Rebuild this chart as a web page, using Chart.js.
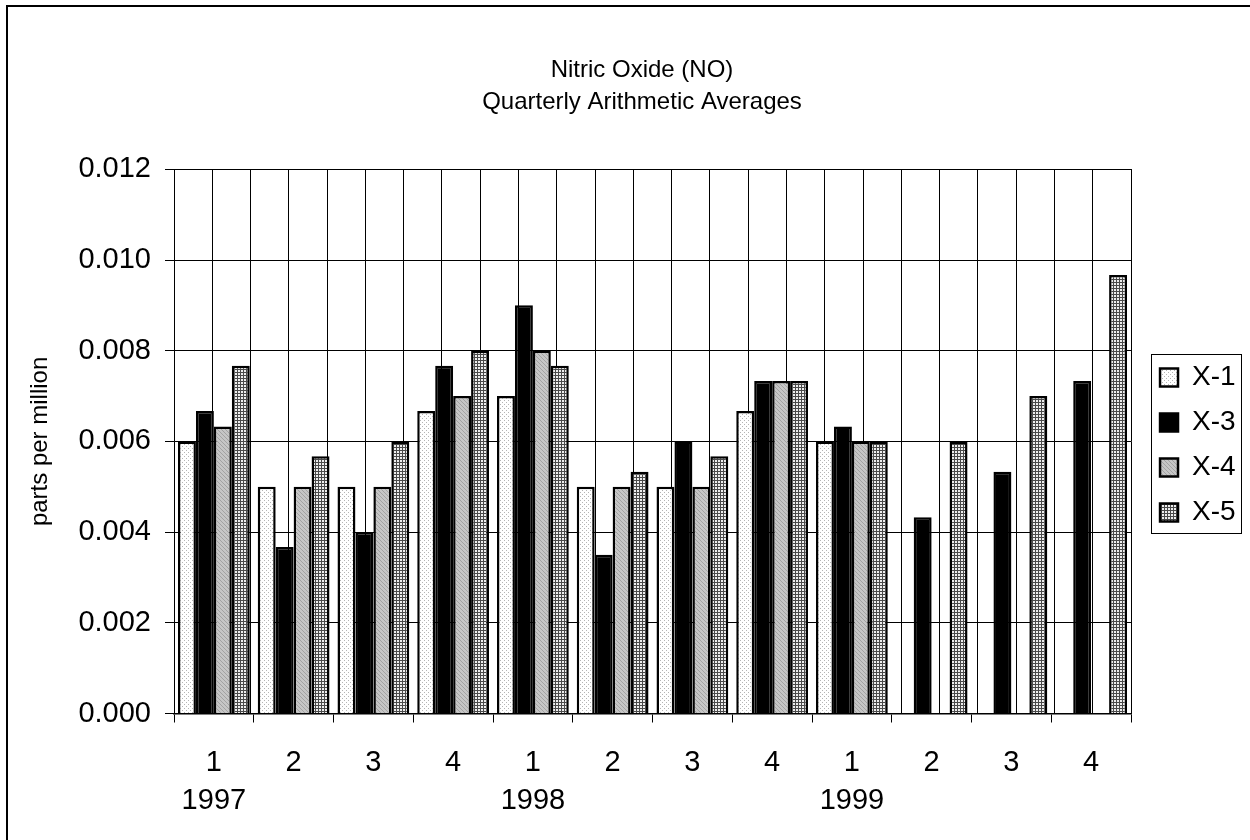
<!DOCTYPE html>
<html>
<head>
<meta charset="utf-8">
<title>Nitric Oxide (NO) – Quarterly Arithmetic Averages</title>
<script src="https://cdn.jsdelivr.net/npm/chart.js@4"></script>
<style>
  html, body { margin: 0; padding: 0; background: #fff; }
  #wrap { position: relative; width: 1250px; height: 840px; }
  canvas { display: block; }
</style>
</head>
<body>
<div id="wrap"><canvas id="chart" width="1250" height="840"></canvas></div>
<script>
// Chart text
const titleLines = ['Nitric Oxide (NO)', 'Quarterly Arithmetic Averages'];
const yAxisTitle = 'parts per million';

// Category axis: quarter number, with the year under each first quarter
const quarters = ['1', '2', '3', '4', '1', '2', '3', '4', '1', '2', '3', '4'];
const years = ['1997', '', '', '', '1998', '', '', '', '1999', '', '', ''];

// Quarterly arithmetic averages (ppm) per monitoring site
const seriesNames = ['X-1', 'X-3', 'X-4', 'X-5'];
const siteX1 = [0.006, 0.005, 0.005, 0.00667, 0.007, 0.005, 0.005, 0.00667, 0.006, null, null, null];
const siteX3 = [0.00667, 0.00367, 0.004, 0.00767, 0.009, 0.0035, 0.006, 0.00733, 0.00633, 0.00433, 0.00533, 0.00733];
const siteX4 = [0.00633, 0.005, 0.005, 0.007, 0.008, 0.005, 0.005, 0.00733, 0.006, null, null, null];
const siteX5 = [0.00767, 0.00567, 0.006, 0.008, 0.00767, 0.00533, 0.00567, 0.00733, 0.006, 0.006, 0.007, 0.00967];

// Value axis
const yMin = 0, yMax = 0.012, yStep = 0.002;

const FONT = '"Liberation Sans", Arial, Helvetica, sans-serif';
Chart.defaults.font.family = FONT;
Chart.defaults.color = '#000';

// Small tiled fills in the style of monochrome print patterns
function tile(w, h, bg, pixels, ink) {
  const c = document.createElement('canvas');
  c.width = w; c.height = h;
  const g = c.getContext('2d');
  g.fillStyle = bg; g.fillRect(0, 0, w, h);
  g.fillStyle = ink;
  pixels.forEach(([px, py, pw, ph]) => g.fillRect(px, py, pw || 1, ph || 1));
  return g.createPattern(c, 'repeat');
}
const pc = document.getElementById('chart').getContext('2d');
const fillDots = tile(4, 4, '#ffffff', [[0, 0], [2, 2]], '#b4b4b4');
const fillSolid = '#000000';
const fillHatch = tile(4, 4, '#c6c6c6', [[0, 0], [1, 1], [2, 2], [3, 3]], '#a2a2a2');
const fillGrid = tile(3, 3, '#4a4a4a', [[1, 1, 2, 2]], '#eeeeee');

const labels = quarters.map((q, i) => years[i] ? [q, years[i]] : q);

function barSet(name, values, fill) {
  return {
    label: name,
    data: values,
    backgroundColor: fill,
    borderColor: '#000',
    borderWidth: 2.5,
    categoryPercentage: 0.9,
    barPercentage: 1.0
  };
}

// Outer frame (top and left edges)
const framePlugin = {
  id: 'frame',
  beforeDraw(chart) {
    const c = chart.ctx;
    c.save();
    c.fillStyle = '#000';
    c.fillRect(6, 5, chart.width - 6, 2);
    c.fillRect(6, 5, 2, chart.height - 5);
    c.restore();
  }
};

// Two-line heading
const headingPlugin = {
  id: 'heading',
  afterDraw(chart) {
    const c = chart.ctx;
    c.save();
    c.fillStyle = '#000';
    c.font = '24px ' + FONT;
    c.textAlign = 'center';
    c.textBaseline = 'middle';
    titleLines.forEach((t, i) => c.fillText(t, 642, 70 + i * 32));
    c.restore();
  }
};

// Box around the legend entries
const legendFramePlugin = {
  id: 'legendFrame',
  afterDraw(chart) {
    const lg = chart.legend;
    if (!lg || !lg.legendHitBoxes || !lg.legendHitBoxes.length) return;
    const hb = lg.legendHitBoxes;
    const first = hb[0], last = hb[hb.length - 1];
    const left = Math.round(first.left - 9) + 0.5;
    const top = Math.round(first.top - 9) + 0.5;
    const right = Math.round(first.left + 81) + 0.5;
    const bottom = Math.round(last.top + last.height + 7) + 0.5;
    const c = chart.ctx;
    c.save();
    c.strokeStyle = '#000';
    c.lineWidth = 1;
    c.strokeRect(left, top, right - left, bottom - top);
    c.restore();
  }
};

new Chart(pc, {
  type: 'bar',
  data: {
    labels: labels,
    datasets: [
      barSet(seriesNames[0], siteX1, fillDots),
      barSet(seriesNames[1], siteX3, fillSolid),
      barSet(seriesNames[2], siteX4, fillHatch),
      barSet(seriesNames[3], siteX5, fillGrid)
    ]
  },
  options: {
    responsive: false,
    animation: false,
    events: [],
    layout: { padding: { top: 169.3, right: 4.4, bottom: 0, left: 0 } },
    scales: {
      x: {
        type: 'category',
        position: 'bottom',
        offset: true,
        grid: { display: true, offset: true, drawOnChartArea: false, drawTicks: true, tickLength: 9, color: '#000', lineWidth: 1 },
        border: { display: true, color: '#000', width: 1.5 },
        ticks: { padding: 22, autoSkip: false, maxRotation: 0, font: { size: 29, lineHeight: 1.3 }, color: '#000' },
        afterFit(s) { s.height = 840 - 713.5; }
      },
      // vertical rules at every half category
      xRules: {
        type: 'linear',
        axis: 'x',
        position: 'top',
        min: 0,
        max: 12,
        ticks: { display: false, stepSize: 0.5 },
        grid: { display: true, drawTicks: false, color: '#000', lineWidth: 1 },
        border: { display: false }
      },
      y: {
        type: 'linear',
        position: 'left',
        min: yMin,
        max: yMax,
        grid: { display: true, drawTicks: true, tickLength: 9, color: '#000', lineWidth: 1 },
        border: { display: true, color: '#000', width: 1 },
        ticks: {
          stepSize: yStep,
          padding: 14,
          font: { size: 29 },
          color: '#000',
          callback: v => Number(v).toFixed(3)
        },
        title: {
          display: true,
          text: yAxisTitle,
          font: { size: 24, lineHeight: 1.2 },
          color: '#000',
          padding: { top: 26, bottom: 0 }
        },
        afterFit(s) { s.width = 174; }
      },
      // gap between plot and legend
      yGap: {
        type: 'linear',
        axis: 'y',
        position: 'right',
        grid: { display: false },
        ticks: { display: false },
        border: { display: false },
        afterFit(s) { s.width = 12; }
      }
    },
    plugins: {
      title: { display: false },
      tooltip: { enabled: false },
      legend: {
        display: true,
        position: 'right',
        align: 'center',
        fullSize: false,
        title: { display: true, text: '', font: { size: 1, lineHeight: 1 }, padding: { top: 6, bottom: 0 } },
        labels: {
          boxWidth: 18,
          boxHeight: 18,
          padding: 17,
          color: '#000',
          font: { size: 28 }
        }
      }
    }
  },
  plugins: [framePlugin, headingPlugin, legendFramePlugin]
});
</script>
</body>
</html>
